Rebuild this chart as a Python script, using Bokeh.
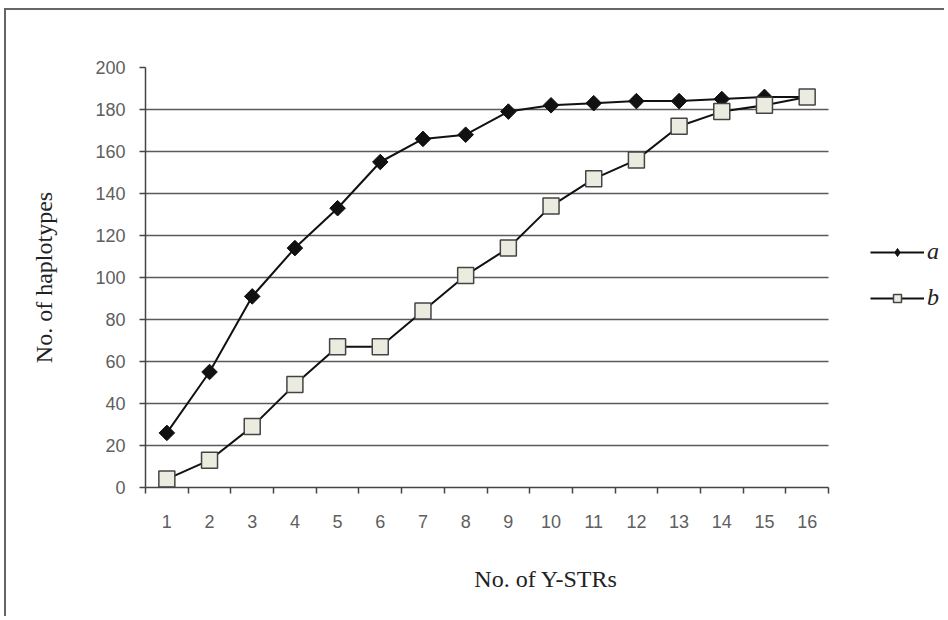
import numpy as np
from bokeh.plotting import figure
from bokeh.models import Range1d, FixedTicker, Legend, LegendItem, BoxAnnotation
from bokeh.embed import file_html
from bokeh.resources import INLINE

# ---- data ----
str_counts = list(range(1, 17))
series_a = [26, 55, 91, 114, 133, 155, 166, 168, 179, 182, 183, 184, 184, 185, 186, 186]
series_b = [4, 13, 29, 49, 67, 67, 84, 101, 114, 134, 147, 156, 172, 179, 182, 186]
y_ticks = list(range(0, 201, 20))
x_boundaries = [i + 0.5 for i in range(0, 17)]

X_START, X_END = 0.5, 16.5
FRAME_W_DATA = 683          # pixel width that spans the 16 categories
FIG_W, FIG_H = 940, 608
LEFT = 139
frame_w = FIG_W - LEFT
x_view_end = X_START + (X_END - X_START) * frame_w / FRAME_W_DATA

p = figure(width=FIG_W, height=FIG_H, output_backend="svg", toolbar_location=None,
           x_range=Range1d(X_START, x_view_end), y_range=Range1d(0, 200),
           min_border_left=LEFT, min_border_right=0,
           min_border_top=57, min_border_bottom=131)
p.styles = {"margin-left": "4px", "margin-top": "8px",
            "border-top": "2px solid #666", "border-left": "2px solid #666"}
p.outline_line_color = None
p.background_fill_color = "white"

# grid
p.xgrid.grid_line_color = None
p.ygrid.ticker = FixedTicker(ticks=y_ticks)
p.ygrid.grid_line_color = "#5a5a5a"
p.ygrid.grid_line_width = 1.5
grid_bounded = False
if "cross_bounds" in p.ygrid[0].properties():
    p.ygrid[0].cross_bounds = (X_START, X_END)
    grid_bounded = True

# axes
tick_font = "Liberation Sans"
p.yaxis.ticker = FixedTicker(ticks=y_ticks)
p.yaxis.major_tick_out = 6
p.yaxis.major_tick_in = 0
p.yaxis.minor_tick_line_color = None
p.yaxis.major_label_standoff = 14
p.yaxis.axis_label = "No. of haplotypes"
p.yaxis.axis_label_standoff = 35

p.xaxis.ticker = FixedTicker(ticks=str_counts, minor_ticks=x_boundaries)
p.xaxis.bounds = (X_START, X_END)
p.xaxis.major_tick_out = 0
p.xaxis.major_tick_in = 0
p.xaxis.minor_tick_out = 6
p.xaxis.minor_tick_in = 0
p.xaxis.minor_tick_line_color = "#444444"
p.xaxis.minor_tick_line_width = 1.5
p.xaxis.major_label_standoff = 21
p.xaxis.axis_label = "No. of Y-STRs"
p.xaxis.axis_label_standoff = 35

for ax in (p.xaxis[0], p.yaxis[0]):
    ax.axis_line_color = "#444444"
    ax.axis_line_width = 1.5
    ax.major_tick_line_color = "#444444"
    ax.major_tick_line_width = 1.5
    ax.major_label_text_font = tick_font
    ax.major_label_text_font_size = "18px"
    ax.major_label_text_color = "#606060"
    ax.axis_label_text_font = "Liberation Serif"
    ax.axis_label_text_font_size = "24px"
    ax.axis_label_text_font_style = "normal"
    ax.axis_label_text_color = "#222222"

if not grid_bounded:
    p.add_layout(BoxAnnotation(left=X_END, fill_color="white", fill_alpha=1,
                               line_color=None, level="underlay"))

# series a
la = p.line(str_counts, series_a, line_color="#111111", line_width=2)
# diamond key (used by the legend); fully covered by the rhombus markers below
sa_key = p.scatter(str_counts, series_a, marker="diamond", size=13,
                   fill_color="#111111", line_color="#111111", line_width=1)
sa = p.scatter(str_counts, series_a, marker="square", angle=np.pi / 4, size=11,
               fill_color="#111111", line_color="#111111")
# series b
lb = p.line(str_counts, series_b, line_color="#111111", line_width=2)
sb = p.scatter(str_counts, series_b, marker="square", size=16,
               fill_color="#ecebdf", line_color="#444444", line_width=1.5)

legend = Legend(items=[LegendItem(label="a", renderers=[la, sa_key]),
                       LegendItem(label="b", renderers=[lb, sb])],
                location=(725, 176))
legend.padding = 0
legend.margin = 0
legend.spacing = 19
legend.glyph_width = 54
legend.glyph_height = 20
legend.label_height = 20
legend.label_width = 13
legend.label_standoff = 3
legend.label_text_font = "Liberation Serif"
legend.label_text_font_style = "italic"
legend.label_text_font_size = "24px"
legend.label_text_color = "#222222"
legend.border_line_color = None
legend.background_fill_alpha = 0
p.add_layout(legend, "center")

open("out.html", "w").write(file_html(p, INLINE))
